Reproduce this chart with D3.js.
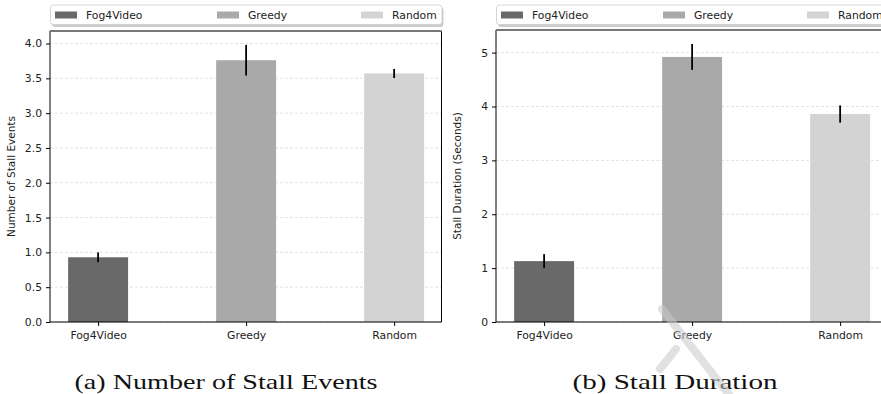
<!DOCTYPE html>
<html>
<head>
<meta charset="utf-8">
<script src="https://cdn.jsdelivr.net/npm/d3@7"></script>
<style>
  html, body { margin: 0; padding: 0; background: #fff; }
  svg { display: block; }
</style>
</head>
<body>
<svg width="881" height="394"></svg>
<script>
// values
var categories = ["Fog4Video", "Greedy", "Random"];
var colors = ["#696969", "#a9a9a9", "#d3d3d3"];

var stallEvents = [0.93, 3.76, 3.57];
var stallEventsErr = [0.07, 0.22, 0.065];
var eventTicks = [0, 0.5, 1, 1.5, 2, 2.5, 3, 3.5, 4];

var stallDuration = [1.13, 4.92, 3.86];
var stallDurationErr = [0.13, 0.24, 0.16];
var durationTicks = [0, 1, 2, 3, 4, 5];

var panels = [
  {left: 50, top: 31, ymax: 4.18, values: stallEvents, errs: stallEventsErr, ticks: eventTicks,
   fmt: d3.format(".1f"), ylabel: "Number of Stall Events", caption: "(a) Number of Stall Events", capX: 226, capW: 303},
  {left: 496, top: 30, ymax: 5.42, values: stallDuration, errs: stallDurationErr, ticks: durationTicks,
   fmt: d3.format("d"), ylabel: "Stall Duration (Seconds)", caption: "(b) Stall Duration", capX: 675, capW: 205}
];

var axW = 391.5, bottom = 322, barW = 0.405;
var sans = "'DejaVu Sans', sans-serif";
var svg = d3.select("svg");

panels.forEach(function(p) {
  var x = d3.scaleLinear().domain([-0.325, 2.32]).range([p.left, p.left + axW]);
  var y = d3.scaleLinear().domain([0, p.ymax]).range([bottom, p.top]);
  var g = svg.append("g");

  // grid
  g.selectAll(".grid").data(p.ticks).enter().append("line")
    .attr("x1", p.left).attr("x2", p.left + axW)
    .attr("y1", function(d){ return y(d); }).attr("y2", function(d){ return y(d); })
    .attr("stroke", "#dcdcdc").attr("stroke-width", 0.8).attr("stroke-dasharray", "3,2");

  // bars
  g.selectAll(".bar").data(p.values).enter().append("rect")
    .attr("x", function(d, i){ return x(i - barW / 2); })
    .attr("width", x(barW) - x(0))
    .attr("y", function(d){ return y(d); })
    .attr("height", function(d){ return bottom - y(d); })
    .attr("fill", function(d, i){ return colors[i]; });

  // error bars
  g.selectAll(".err").data(p.values).enter().append("line")
    .attr("x1", function(d, i){ return x(i); }).attr("x2", function(d, i){ return x(i); })
    .attr("y1", function(d, i){ return y(d + p.errs[i]); })
    .attr("y2", function(d, i){ return y(d - p.errs[i]); })
    .attr("stroke", "#000").attr("stroke-width", 1.8);

  // axes
  var ya = g.append("g").attr("transform", "translate(" + p.left + ",0)")
    .call(d3.axisLeft(y).tickValues(p.ticks).tickFormat(p.fmt).tickSize(4).tickPadding(4));
  var xa = g.append("g").attr("transform", "translate(0," + bottom + ")")
    .call(d3.axisBottom(x).tickValues([0, 1, 2]).tickFormat(function(d){ return categories[d]; })
      .tickSize(4).tickPadding(5));
  [ya, xa].forEach(function(a) {
    a.select(".domain").remove();
    a.selectAll("text").attr("font-family", sans).attr("font-size", "10.8px").attr("fill", "#222");
    a.selectAll("line").attr("stroke", "#000");
  });

  // spines
  g.append("line").attr("x1", p.left).attr("x2", p.left + axW).attr("y1", bottom).attr("y2", bottom)
    .attr("stroke", "#000").attr("stroke-width", 1);
  g.append("line").attr("x1", p.left).attr("x2", p.left).attr("y1", p.top).attr("y2", bottom)
    .attr("stroke", "#000").attr("stroke-width", 1);
  g.append("line").attr("x1", p.left + axW).attr("x2", p.left + axW).attr("y1", p.top).attr("y2", bottom)
    .attr("stroke", "#000").attr("stroke-width", 1);
  g.append("line").attr("x1", p.left).attr("x2", p.left + axW).attr("y1", p.top).attr("y2", p.top)
    .attr("stroke", "#777").attr("stroke-width", 2);

  // y label
  g.append("text")
    .attr("transform", "translate(" + (p.left - 35) + "," + ((p.top + bottom) / 2) + ") rotate(-90)")
    .attr("text-anchor", "middle").attr("font-family", sans).attr("font-size", "10.5px").attr("fill", "#222")
    .text(p.ylabel);

  // legend
  var lg = g.append("g");
  lg.append("rect").attr("x", p.left + 2).attr("y", 7.5).attr("width", axW).attr("height", 19.5)
    .attr("rx", 3).attr("fill", "#999").attr("opacity", 0.5);
  lg.append("rect").attr("x", p.left + 0.5).attr("y", 5).attr("width", axW).attr("height", 19.5)
    .attr("rx", 3).attr("fill", "#fff").attr("stroke", "#ccc").attr("stroke-width", 0.8);
  var offs = [5, 167, 311];
  var items = lg.selectAll(".item").data(categories).enter().append("g")
    .attr("transform", function(d, i){ return "translate(" + (p.left + offs[i]) + ",0)"; });
  items.append("rect").attr("x", 0).attr("y", 11.5).attr("width", 22).attr("height", 7)
    .attr("fill", function(d, i){ return colors[i]; });
  items.append("text").attr("x", 31).attr("y", 19).attr("font-family", sans).attr("font-size", "10.8px")
    .attr("fill", "#222").text(function(d){ return d; });

  // caption
  g.append("text").attr("x", p.capX).attr("y", 389)
    .attr("text-anchor", "middle").attr("font-family", "'Liberation Serif', serif").attr("font-size", "22px")
    .attr("textLength", p.capW).attr("lengthAdjust", "spacingAndGlyphs").attr("fill", "#111")
    .text(p.caption);
});

// faint watermark stroke over panel (b)
svg.append("path")
  .attr("d", "M662,309 L733,400 M676,349 L660,369")
  .attr("fill", "none").attr("stroke", "#c8c8c8").attr("stroke-width", 8)
  .attr("stroke-linecap", "round").attr("opacity", 0.55);
</script>
</body>
</html>
